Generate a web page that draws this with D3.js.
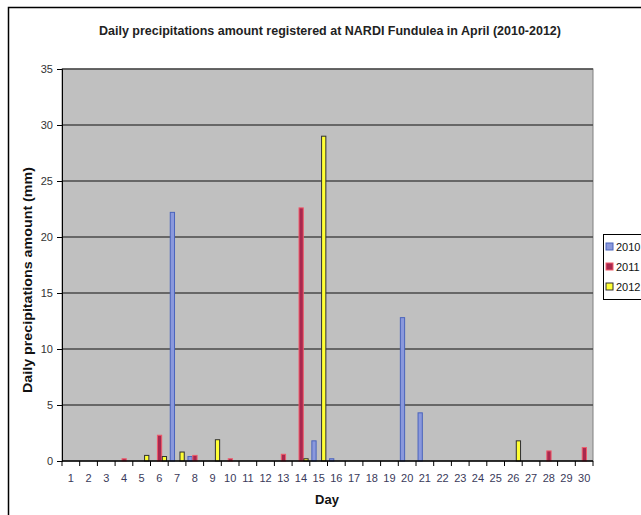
<!DOCTYPE html>
<html>
<head>
<meta charset="utf-8">
<script src="https://cdn.jsdelivr.net/npm/d3@7/dist/d3.min.js"></script>
<style>
  html, body { margin: 0; padding: 0; background: #fff; }
  svg { display: block; font-family: "Liberation Sans", Arial, sans-serif; }
</style>
</head>
<body>
<svg id="chart" width="641" height="515"></svg>
<script>
// April days and daily precipitation (mm) per year
const days = d3.range(1, 31);
const years = ["2010", "2011", "2012"];
const rain2010 = [0,0,0,0,0,0,22.2,0.4,0,0,0,0,0,0,1.8,0.2,0,0,0,12.8,4.3,0,0,0,0,0,0,0,0,0];
const rain2011 = [0,0,0,0.2,0,2.3,0,0.5,0,0.2,0,0,0.6,22.6,0,0,0,0,0,0,0,0,0,0,0,0,0,0.9,0,1.2];
const rain2012 = [0,0,0,0,0.5,0.4,0.8,0,1.9,0,0,0,0,0.2,29.0,0,0,0,0,0,0,0,0,0,0,1.8,0,0,0,0];
const yTicks = [0, 5, 10, 15, 20, 25, 30, 35];

const seriesValues = { "2010": rain2010, "2011": rain2011, "2012": rain2012 };
const fills = { "2010": "#8a98dc", "2011": "#a8284e", "2012": "#ffff33" };
const strokes = { "2010": "#4a64bc", "2011": "#f05a6a", "2012": "#303030" };

const svg = d3.select("#chart");
const plot = { left: 62, right: 593, top: 69, bottom: 461 };

// outer chart frame
svg.append("path")
  .attr("d", "M8.5,515 L8.5,7.5 L641,7.5")
  .attr("fill", "none").attr("stroke", "#000").attr("stroke-width", 1.5);

const x = d3.scaleBand().domain(days).range([plot.left, plot.right]).paddingInner(0).paddingOuter(0);
const xs = d3.scaleBand().domain(years).range([0, x.bandwidth()]).paddingInner(0).paddingOuter(0.32);
const y = d3.scaleLinear().domain([0, 35]).range([plot.bottom, plot.top]);

// plot background
svg.append("rect")
  .attr("x", plot.left).attr("y", plot.top)
  .attr("width", plot.right - plot.left).attr("height", plot.bottom - plot.top)
  .attr("fill", "#c0c0c0").attr("stroke", "#808080").attr("stroke-width", 1);

// horizontal gridlines
svg.append("g").selectAll("line")
  .data(yTicks.filter(d => d > 0))
  .join("line")
  .attr("x1", plot.left).attr("x2", plot.right)
  .attr("y1", d => y(d)).attr("y2", d => y(d))
  .attr("stroke", "#4a4a4a").attr("stroke-width", 1.4);

// bars
const groups = svg.append("g").selectAll("g")
  .data(years)
  .join("g");
groups.selectAll("rect")
  .data(yr => days.map((d, i) => ({ yr, day: d, v: seriesValues[yr][i] })).filter(o => o.v > 0))
  .join("rect")
  .attr("x", o => x(o.day) + xs(o.yr) + 0.5)
  .attr("width", xs.bandwidth() - 0.6)
  .attr("y", o => y(o.v))
  .attr("height", o => y(0) - y(o.v))
  .attr("fill", o => fills[o.yr])
  .attr("stroke", o => strokes[o.yr])
  .attr("stroke-width", 1);

// y axis
const yAxis = svg.append("g")
  .attr("transform", `translate(${plot.left},0)`)
  .call(d3.axisLeft(y).tickValues(yTicks).tickSize(5).tickPadding(4).tickFormat(d3.format("d")));
yAxis.select(".domain").attr("stroke", "#000");
yAxis.selectAll(".tick line").attr("stroke", "#000");
yAxis.selectAll("text").attr("font-size", 11).attr("fill", "#333");

// x axis: ticks on category boundaries, labels centred
const xAxisG = svg.append("g").attr("transform", `translate(0,${plot.bottom})`);
xAxisG.append("line")
  .attr("x1", plot.left).attr("x2", plot.right)
  .attr("stroke", "#000").attr("stroke-width", 1.5);
xAxisG.selectAll("line.tk")
  .data(days.concat([31]))
  .join("line").attr("class", "tk")
  .attr("x1", d => d <= 30 ? x(d) : plot.right)
  .attr("x2", d => d <= 30 ? x(d) : plot.right)
  .attr("y1", 0).attr("y2", 5)
  .attr("stroke", "#000");
xAxisG.selectAll("text")
  .data(days)
  .join("text")
  .attr("x", d => x(d) + x.bandwidth() / 2)
  .attr("y", 21)
  .attr("text-anchor", "middle")
  .attr("font-size", 11)
  .attr("fill", "#3a3a5a")
  .text(d => d);

// title
svg.append("text")
  .attr("x", 330).attr("y", 35)
  .attr("text-anchor", "middle")
  .attr("font-size", 13).attr("font-weight", "bold")
  .attr("fill", "#222")
  .attr("textLength", 462).attr("lengthAdjust", "spacingAndGlyphs")
  .text("Daily precipitations amount registered at NARDI Fundulea in April  (2010-2012)");

// axis titles
svg.append("text")
  .attr("transform", "translate(32,280) rotate(-90)")
  .attr("text-anchor", "middle")
  .attr("font-size", 12).attr("font-weight", "bold").attr("fill", "#111")
  .attr("textLength", 226).attr("lengthAdjust", "spacingAndGlyphs")
  .text("Daily precipitations amount (mm)");
svg.append("text")
  .attr("x", 327).attr("y", 504)
  .attr("text-anchor", "middle")
  .attr("font-size", 13).attr("font-weight", "bold").attr("fill", "#111")
  .text("Day");

// legend
const legend = svg.append("g").attr("transform", "translate(603,234)");
legend.append("rect")
  .attr("x", 0.5).attr("y", 0.5).attr("width", 60).attr("height", 65)
  .attr("fill", "#fff").attr("stroke", "#000");
const items = legend.selectAll("g.it").data(years).join("g").attr("class", "it")
  .attr("transform", (d, i) => `translate(3,${9 + i * 20})`);
items.append("rect")
  .attr("width", 7).attr("height", 7)
  .attr("fill", d => fills[d]).attr("stroke", d => strokes[d]);
items.append("text")
  .attr("x", 10).attr("y", 8)
  .attr("font-size", 11).attr("fill", "#111")
  .text(d => d);
</script>
</body>
</html>
